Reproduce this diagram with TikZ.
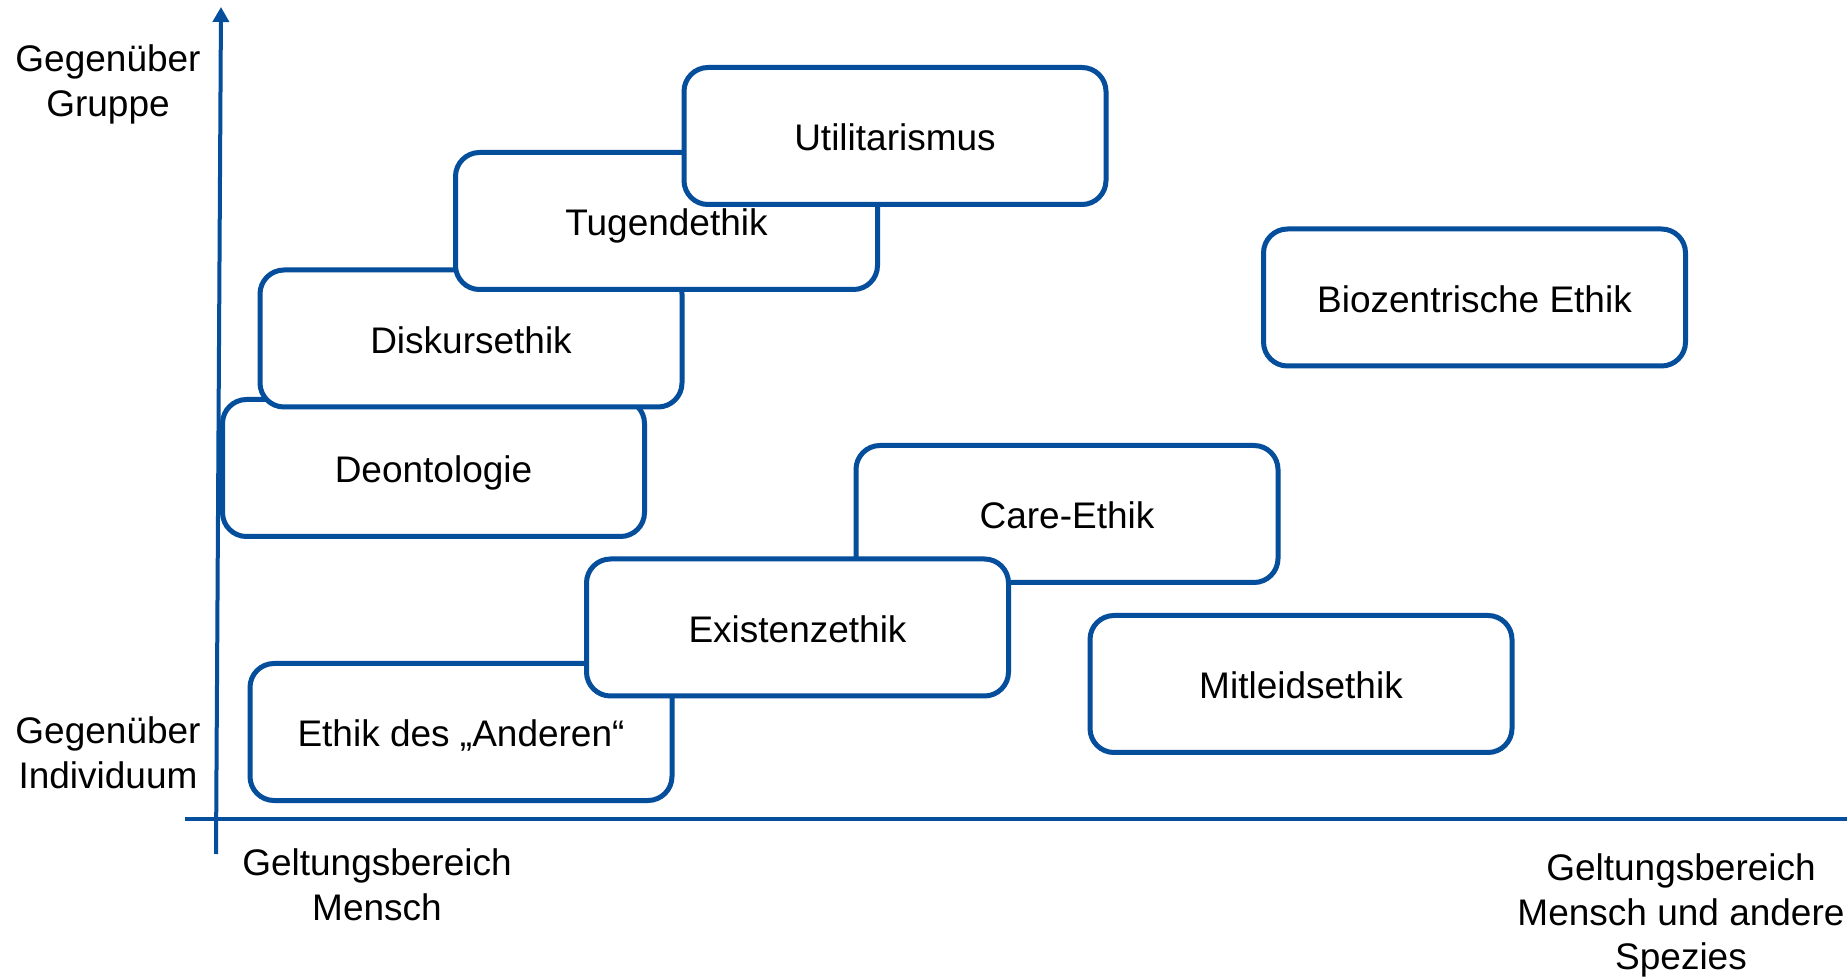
\documentclass[tikz,border=0pt]{standalone}
\usepackage{fontspec}
\setmainfont{Liberation Sans}
\usetikzlibrary{arrows.meta}
\definecolor{axisblue}{RGB}{4,78,156}
\tikzset{
  ethbox/.style={draw=axisblue, line width=2.5pt, fill=white, rounded corners=12pt,
    minimum width=211pt, minimum height=68.5pt, inner sep=0pt,
    text height=15pt, text depth=0pt,
    font=\fontsize{18.5}{22}\selectfont},
  axislabel/.style={align=center, inner sep=0pt, font=\fontsize{18.5}{22.3}\selectfont},
  axisline/.style={draw=axisblue, line width=2pt}
}
\begin{document}
\begin{tikzpicture}[x=0.5pt,y=-0.5pt]
\clip (0,0) rectangle (1847,977);
\fill[white] (0,0) rectangle (1847,977);
% axes
\coordinate (ybot) at (216,854);
\coordinate (ytop) at (221,7);
\coordinate (xleft) at (185,819);
\coordinate (xright) at (1862,819);
\draw[axisline, -{Triangle[width=8pt,length=7.5pt]}] (ybot) -- (ytop);
\draw[axisline, -{Triangle[width=8pt,length=7.5pt]}] (xleft) -- (xright);
% axis labels
\node[axislabel] (lgruppe) at (108,84.5) {Gegenüber\\Gruppe};
\node[axislabel] (lindiv) at (108,753) {Gegenüber\\Individuum};
\node[axislabel] (lmensch) at (377,885) {Geltungsbereich\\Mensch};
\node[axislabel] (lspezies) at (1681,915.5) {Geltungsbereich\\Mensch und andere\\Spezies};
% boxes
\node[ethbox] (deon) at (433.5,468) {Deontologie};
\node[ethbox] (disk) at (471,338.5) {Diskursethik};
\node[ethbox] (tug) at (666.5,221) {Tugendethik};
\node[ethbox] (util) at (895,136) {Utilitarismus};
\node[ethbox] (care) at (1067,514) {Care-Ethik};
\node[ethbox] (anderen) at (461,732) {Ethik des „Anderen“};
\node[ethbox] (exist) at (797.5,627.5) {Existenzethik};
\node[ethbox] (mitleid) at (1301,684) {Mitleidsethik};
\node[ethbox] (bio) at (1474.5,297.5) {Biozentrische Ethik};
\end{tikzpicture}
\end{document}
